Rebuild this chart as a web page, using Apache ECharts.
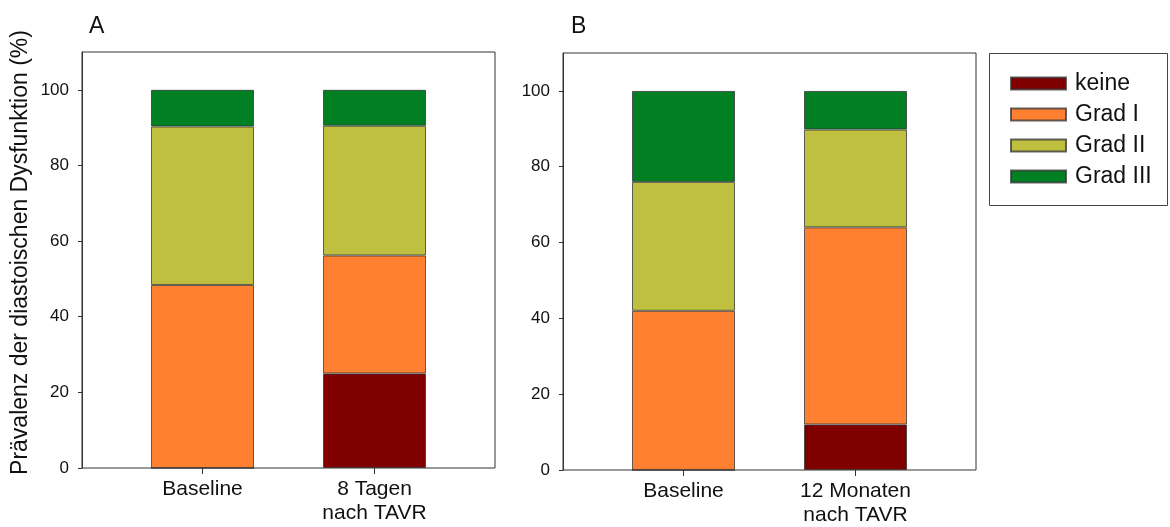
<!DOCTYPE html>
<html>
<head>
<meta charset="utf-8">
<script src="https://cdn.jsdelivr.net/npm/echarts@6/dist/echarts.min.js"></script>
<style>
html,body{margin:0;padding:0;background:#fff;}
#chart{width:1170px;height:527px;}
</style>
</head>
<body>
<div id="chart"></div>
<script>
// ---- data ----
const categoriesA = ['Baseline', '8 Tagen\nnach TAVR'];
const categoriesB = ['Baseline', '12 Monaten\nnach TAVR'];
const seriesNames = ['keine', 'Grad I', 'Grad II', 'Grad III'];
const colors = ['#800000', '#ff8030', '#c0c040', '#008022'];
const keineA = [0, 25.0];
const grad1A = [48.4, 31.2];
const grad2A = [41.9, 34.3];
const grad3A = [9.7, 9.5];
const keineB = [0, 12.0];
const grad1B = [42.0, 52.0];
const grad2B = [34.0, 25.8];
const grad3B = [24.0, 10.2];
const yTicks = [0, 20, 40, 60, 80, 100];
const yTitle = 'Prävalenz der diastoischen Dysfunktion (%)';

const FONT = 'Liberation Sans, Arial, sans-serif';
const chart = echarts.init(document.getElementById('chart'));

const dataA = [keineA, grad1A, grad2A, grad3A];
const dataB = [keineB, grad1B, grad2B, grad3B];

// frame grids: 0 (A), 2 (B); data grids: 1 (A), 3 (B)
const frames = [{left: 82, top: 52, width: 413, height: 416}, {left: 563, top: 53, width: 413, height: 417}];

const grids = [];
const xAxes = [];
const yAxes = [];
frames.forEach(function (f, p) {
  grids.push({left: f.left, top: f.top, width: f.width, height: f.height, show: true,
    borderColor: '#333', borderWidth: 1, backgroundColor: 'transparent', outerBoundsMode: 'none', containLabel: false});
  grids.push({left: f.left + (f.width - 344) / 2, top: f.top, width: 344, height: f.height, outerBoundsMode: 'none', containLabel: false});
  // frame axes
  xAxes.push({type: 'value', gridIndex: 2 * p, min: 0, max: 1, show: false});
  const yf = {
    type: 'value', gridIndex: 2 * p, min: 0, max: 110,
    splitLine: {show: false},
    axisLine: {show: true, onZero: false, lineStyle: {color: '#333', width: 1}},
    axisTick: {show: true, length: 4, customValues: yTicks, lineStyle: {color: '#333'}},
    axisLabel: {customValues: yTicks, margin: 13, color: '#111', fontFamily: FONT, fontSize: 17}
  };
  if (p === 0) {
    Object.assign(yf, {
      name: yTitle, nameLocation: 'middle', nameRotate: 90, nameGap: 50,
      nameTextStyle: {fontFamily: FONT, fontSize: 23, color: '#111', padding: [0, 0, 0, 15]}
    });
  }
  yAxes.push(yf);
  // data axes
  xAxes.push({
    type: 'category', gridIndex: 2 * p + 1, data: p === 0 ? categoriesA : categoriesB,
    boundaryGap: true,
    axisLine: {show: false},
    axisTick: {show: true, alignWithLabel: true, length: 6, lineStyle: {color: '#333'}},
    axisLabel: {margin: 9, color: '#111', fontFamily: FONT, fontSize: 21, lineHeight: 24}
  });
  yAxes.push({type: 'value', gridIndex: 2 * p + 1, min: 0, max: 110, show: false});
});

const series = [];
[dataA, dataB].forEach(function (panel, p) {
  panel.forEach(function (vals, i) {
    series.push({
      name: seriesNames[i], type: 'bar', stack: p === 0 ? 'A' : 'B',
      xAxisIndex: 2 * p + 1, yAxisIndex: 2 * p + 1, barWidth: 103,
      itemStyle: {color: colors[i], borderColor: 'rgba(50,50,50,0.75)', borderWidth: 1},
      emphasis: {disabled: true},
      data: vals
    });
  });
});

chart.setOption({
  animation: false,
  backgroundColor: '#fff',
  grid: grids,
  xAxis: xAxes,
  yAxis: yAxes,
  legend: {
    orient: 'vertical', left: 1005, top: 67, icon: 'rect',
    itemWidth: 55, itemHeight: 12, itemGap: 8,
    data: seriesNames,
    textStyle: {fontFamily: FONT, fontSize: 23, color: '#111', padding: [0, 0, 0, 4]}
  },
  graphic: [
    {type: 'rect', shape: {x: 989.5, y: 53.5, width: 178, height: 152}, style: {fill: 'none', stroke: '#444', lineWidth: 1}, silent: true},
    {type: 'text', left: 89, top: 15, style: {text: 'A', font: '23px ' + FONT, fill: '#111'}},
    {type: 'text', left: 571, top: 15, style: {text: 'B', font: '23px ' + FONT, fill: '#111'}}
  ],
  series: series
});
</script>
</body>
</html>
